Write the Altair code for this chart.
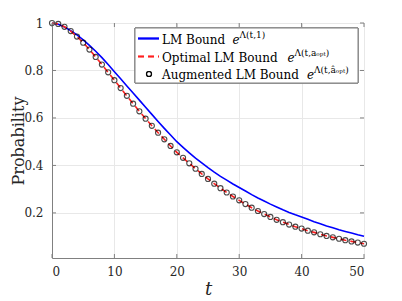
import altair as alt
import pandas as pd

t_vals = list(range(51))
lm_bound = [1.000, 0.995, 0.983, 0.968, 0.950, 0.929, 0.906, 0.881, 0.854, 0.825,
            0.795, 0.765, 0.735, 0.705, 0.675, 0.645, 0.615, 0.585, 0.556, 0.528,
            0.500, 0.476, 0.453, 0.431, 0.411, 0.391, 0.372, 0.354, 0.338, 0.322,
            0.307, 0.292, 0.277, 0.263, 0.250, 0.237, 0.225, 0.213, 0.202, 0.192,
            0.183, 0.173, 0.163, 0.154, 0.145, 0.137, 0.129, 0.122, 0.115, 0.108,
            0.102]
opt_bound = [1.000, 0.996, 0.984, 0.966, 0.943, 0.917, 0.888, 0.857, 0.825, 0.792,
             0.759, 0.726, 0.693, 0.660, 0.628, 0.597, 0.567, 0.538, 0.510, 0.482,
             0.455, 0.432, 0.409, 0.386, 0.364, 0.343, 0.323, 0.304, 0.286, 0.269,
             0.253, 0.237, 0.222, 0.208, 0.195, 0.183, 0.171, 0.161, 0.151, 0.142,
             0.134, 0.125, 0.118, 0.110, 0.103, 0.097, 0.091, 0.085, 0.080, 0.075,
             0.070]
aug_bound = list(opt_bound)

x_ticks = [0, 10, 20, 30, 40, 50]
y_ticks = [0.2, 0.4, 0.6, 0.8, 1.0]
legend_main = ["LM Bound", "Optimal LM Bound", "Augmented LM Bound"]
legend_sup = ["Λ(t,1)", "Λ(t,aₒₚₜ)", "Λ(t,âₒₚₜ)"]

W, H = 312, 235
FONT = "DejaVu Serif"

df = pd.DataFrame({"t": t_vals, "lm": lm_bound, "opt": opt_bound, "aug": aug_bound})

xs = alt.Scale(domain=[0, 50], nice=False, zero=False)
ys = alt.Scale(domain=[0.01, 1], nice=False, zero=False)

xax = alt.Axis(values=x_ticks, format="d", grid=True, gridColor="#e8e8e8", ticks=False,
               labelFont=FONT, labelFontSize=12, labelColor="#262626", labelPadding=8,
               domainColor="#808080", title="t", titleFont=FONT, titleFontStyle="italic",
               titleFontWeight="normal", titleFontSize=18, titleColor="#262626", titlePadding=3)
yax = alt.Axis(values=y_ticks, labelExpr="datum.value == 1 ? '1' : format(datum.value, '.1f')",
               grid=True, gridColor="#e8e8e8", ticks=False,
               labelFont=FONT, labelFontSize=12, labelColor="#262626", labelPadding=9,
               domainColor="#808080", title="Probability", titleFont=FONT,
               titleFontWeight="normal", titleFontSize=16, titleColor="#262626",
               titleX=-34, titleY=H / 2, titleAngle=270, titleAlign="center",
               titleBaseline="middle")

base = alt.Chart(df)

lm_line = base.mark_line(color="#0000ff", strokeWidth=1.6).encode(
    x=alt.X("t:Q", scale=xs, axis=xax), y=alt.Y("lm:Q", scale=ys, axis=yax))
opt_line = base.mark_line(color="#ff2020", strokeWidth=1.6, strokeDash=[6, 4]).encode(
    x=alt.X("t:Q", scale=xs), y=alt.Y("opt:Q", scale=ys))
aug_pts = base.mark_point(shape="circle", filled=False, color="black", size=26, strokeWidth=1.1).encode(
    x=alt.X("t:Q", scale=xs), y=alt.Y("aug:Q", scale=ys))

xt = alt.Chart(pd.DataFrame({"v": x_ticks}))
yt = alt.Chart(pd.DataFrame({"v": y_ticks}))
tick_style = dict(color="#808080", strokeWidth=1)
ticks = [
    xt.mark_rule(**tick_style).encode(x=alt.X("v:Q", scale=xs), y=alt.value(H), y2=alt.value(H - 4)),
    xt.mark_rule(**tick_style).encode(x=alt.X("v:Q", scale=xs), y=alt.value(0), y2=alt.value(4)),
    yt.mark_rule(**tick_style).encode(y=alt.Y("v:Q", scale=ys), x=alt.value(0), x2=alt.value(4)),
    yt.mark_rule(**tick_style).encode(y=alt.Y("v:Q", scale=ys), x=alt.value(W), x2=alt.value(W - 4)),
]

lg = alt.Chart(pd.DataFrame({"main": legend_main, "sup": legend_sup}))
box = lg.mark_rect(fill="white", stroke="#808080", strokeWidth=1).encode(
    x=alt.value(83), x2=alt.value(306), y=alt.value(5), y2=alt.value(60))
rows_y = [15.5, 33.5, 51]
sw_blue = lg.mark_rule(color="#0000ff", strokeWidth=1.6).encode(
    x=alt.value(86), x2=alt.value(107), y=alt.value(rows_y[0]))
sw_red = lg.mark_rule(color="#ff2020", strokeWidth=1.6, strokeDash=[6, 4]).encode(
    x=alt.value(86), x2=alt.value(107), y=alt.value(rows_y[1]))
sw_pt = lg.mark_point(shape="circle", filled=False, color="black", size=26, strokeWidth=1.1).encode(
    x=alt.value(97), y=alt.value(rows_y[2]))

e_x = [180.5, 235.5, 255]
legend_layers = [box, sw_blue, sw_red, sw_pt]
for i in range(3):
    sel = lg.transform_filter(alt.datum.main == legend_main[i])
    legend_layers.append(sel.mark_text(font=FONT, fontSize=12, align="left", baseline="middle",
                                       color="black").encode(
        x=alt.value(110), y=alt.value(rows_y[i] + 1), text="main:N"))
    legend_layers.append(sel.mark_text(font=FONT, fontSize=12, fontStyle="italic", align="left",
                                       baseline="middle", color="black", text="e").encode(
        x=alt.value(e_x[i]), y=alt.value(rows_y[i] + 1)))
    legend_layers.append(sel.mark_text(font=FONT, fontSize=9, align="left", baseline="middle",
                                       color="black").encode(
        x=alt.value(e_x[i] + 7), y=alt.value(rows_y[i] - 4), text="sup:N"))

chart = alt.layer(lm_line, opt_line, aug_pts, *ticks, *legend_layers).properties(
    width=W, height=H,
    autosize=alt.AutoSizeParams(type="none"),
    padding={"left": 44, "top": 15, "right": 30, "bottom": 45},
).configure_view(stroke="#808080", strokeWidth=1).configure(background="white")

chart.save("out.html", embed_options={"renderer": "svg", "actions": False})
